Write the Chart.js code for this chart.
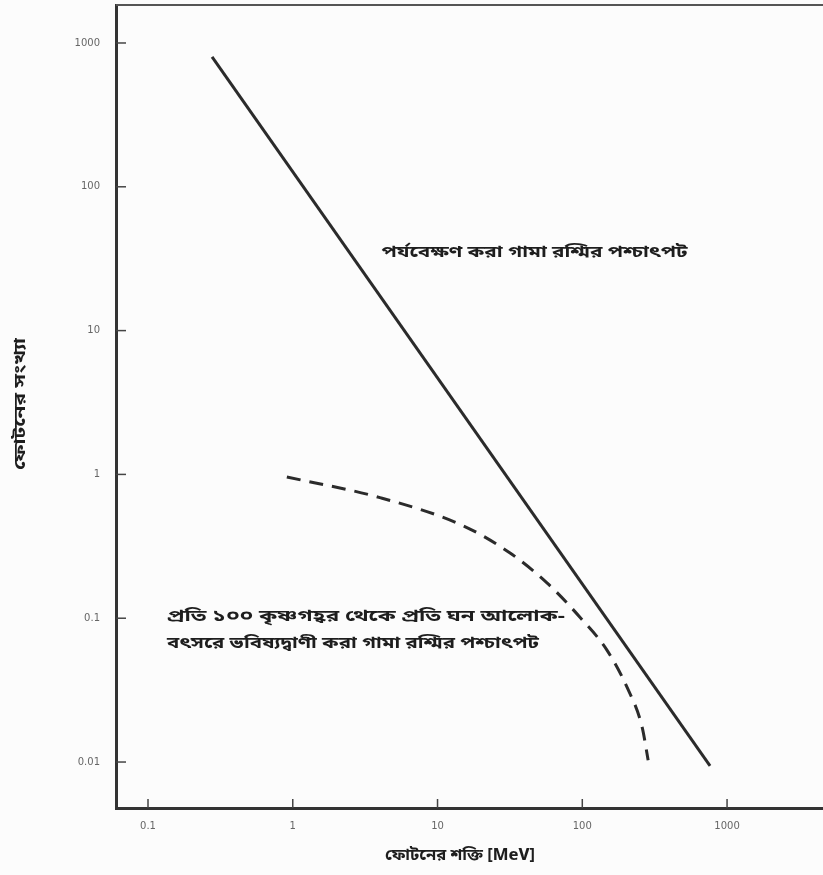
<!DOCTYPE html>
<html>
<head>
<meta charset="utf-8">
<script src="https://cdn.jsdelivr.net/npm/chart.js@4.4.1/dist/chart.umd.min.js"></script>
<style>
  html, body { margin: 0; padding: 0; background: #fcfcfc; }
  #wrap { width: 823px; height: 875px; position: relative; }
</style>
</head>
<body>
<div id="wrap"><canvas id="c" width="823" height="875"></canvas></div>
<script>
// ---- data ----
const xTickValues = [0.1, 1, 10, 100, 1000];
const xTickLabels = ['0.1', '1', '10', '100', '1000'];
const yTickValues = [0.01, 0.1, 1, 10, 100, 1000];
const yTickLabels = ['0.01', '0.1', '1', '10', '100', '1000'];

// observed gamma-ray background (straight line on log-log)
const observedEnergy = [0.277, 763];
const observedCount  = [800, 0.0094];

// predicted background (dashed curve)
const predictedEnergy = [0.91, 4.0, 15, 31.7, 57, 96, 148, 204, 259, 285];
const predictedCount  = [0.96, 0.69, 0.44, 0.284, 0.176, 0.102, 0.060, 0.033, 0.0175, 0.0103];

const xAxisTitle = 'ফোটনের শক্তি [MeV]';
const yAxisTitle = 'ফোটনের সংখ্যা';
const observedLabel = 'পর্যবেক্ষণ করা গামা রশ্মির পশ্চাৎপট';
const predictedLabelLines = ['প্রতি ১০০ কৃষ্ণগহ্বর থেকে প্রতি ঘন আলোক-', 'বৎসরে ভবিষ্যদ্বাণী করা গামা রশ্মির পশ্চাৎপট'];

const BN_FONT = "'Noto Sans Bengali', 'Lohit Bengali', 'Noto Sans', sans-serif";
const INK = '#2b2b2b';

const pts = (xs, ys) => xs.map((x, i) => ({ x: x, y: ys[i] }));

// draw text stretched horizontally to a target width
function drawFit(ctx, text, x, y, width, align) {
  const w = ctx.measureText(text).width;
  const k = width / w;
  ctx.save();
  ctx.translate(x, y);
  ctx.scale(k, 1);
  ctx.textAlign = align || 'left';
  ctx.fillText(text, 0, 0);
  ctx.restore();
}

const decorPlugin = {
  id: 'decor',
  afterDraw(chart) {
    const ctx = chart.ctx;
    const a = chart.chartArea;
    const xs = chart.scales.x, ys = chart.scales.y;
    ctx.save();
    // top border
    ctx.strokeStyle = '#555';
    ctx.lineWidth = 2;
    ctx.beginPath();
    ctx.moveTo(a.left, a.top);
    ctx.lineTo(a.right, a.top);
    ctx.stroke();
    // inward tick marks
    ctx.strokeStyle = '#444';
    ctx.lineWidth = 1.5;
    xTickValues.forEach(v => {
      const px = xs.getPixelForValue(v);
      ctx.beginPath();
      ctx.moveTo(px, a.bottom);
      ctx.lineTo(px, a.bottom - 9);
      ctx.stroke();
    });
    yTickValues.forEach(v => {
      const py = ys.getPixelForValue(v);
      ctx.beginPath();
      ctx.moveTo(a.left, py);
      ctx.lineTo(a.left + 10, py);
      ctx.stroke();
    });
    // axis titles
    ctx.fillStyle = '#1e1e1e';
    ctx.font = 'bold 15px ' + BN_FONT;
    ctx.textBaseline = 'middle';
    drawFit(ctx, xAxisTitle, 460, 857, 150, 'center');
    ctx.save();
    ctx.translate(22, 404);
    ctx.rotate(-Math.PI / 2);
    drawFit(ctx, yAxisTitle, 0, 0, 132, 'center');
    ctx.restore();
    // annotations anchored to data coordinates
    ctx.font = 'bold 15px ' + BN_FONT;
    drawFit(ctx, observedLabel, xs.getPixelForValue(4.1), ys.getPixelForValue(34), 306, 'left');
    drawFit(ctx, predictedLabelLines[0], xs.getPixelForValue(0.135), ys.getPixelForValue(0.1), 398, 'left');
    drawFit(ctx, predictedLabelLines[1], xs.getPixelForValue(0.135), ys.getPixelForValue(0.065), 372, 'left');
    ctx.restore();
  }
};

new Chart(document.getElementById('c'), {
  type: 'line',
  data: {
    datasets: [
      {
        data: pts(observedEnergy, observedCount),
        borderColor: INK,
        borderWidth: 3,
        pointRadius: 0,
        fill: false
      },
      {
        data: pts(predictedEnergy, predictedCount),
        borderColor: INK,
        borderWidth: 3,
        borderDash: [14, 9],
        pointRadius: 0,
        cubicInterpolationMode: 'monotone',
        fill: false
      }
    ]
  },
  options: {
    responsive: false,
    animation: false,
    layout: { padding: { top: 5, right: 0, left: 0, bottom: 0 } },
    plugins: { legend: { display: false }, tooltip: { enabled: false } },
    scales: {
      x: {
        type: 'logarithmic',
        min: 0.0601,
        max: 4600,
        afterBuildTicks: s => { s.ticks = xTickValues.map(v => ({ value: v })); },
        afterFit: s => { s.height = 67; s.paddingLeft = 0; s.paddingRight = 0; },
        grid: { display: true, drawOnChartArea: false, drawTicks: false },
        border: { display: true, color: '#333', width: 3 },
        ticks: {
          autoSkip: false,
          maxRotation: 0,
          padding: 12,
          color: '#666',
          font: { family: 'DejaVu Sans', size: 10 },
          callback: v => { const i = xTickValues.indexOf(v); return i >= 0 ? xTickLabels[i] : ''; }
        }
      },
      y: {
        type: 'logarithmic',
        min: 0.00479,
        max: 1837,
        afterBuildTicks: s => { s.ticks = yTickValues.map(v => ({ value: v })); },
        afterFit: s => { s.width = 116; s.paddingTop = 0; s.paddingBottom = 0; },
        grid: { display: true, drawOnChartArea: false, drawTicks: false },
        border: { display: true, color: '#333', width: 3 },
        ticks: {
          autoSkip: false,
          padding: 16,
          color: '#666',
          font: { family: 'DejaVu Sans', size: 10 },
          callback: v => { const i = yTickValues.indexOf(v); return i >= 0 ? yTickLabels[i] : ''; }
        }
      }
    }
  },
  plugins: [decorPlugin]
});
</script>
</body>
</html>
